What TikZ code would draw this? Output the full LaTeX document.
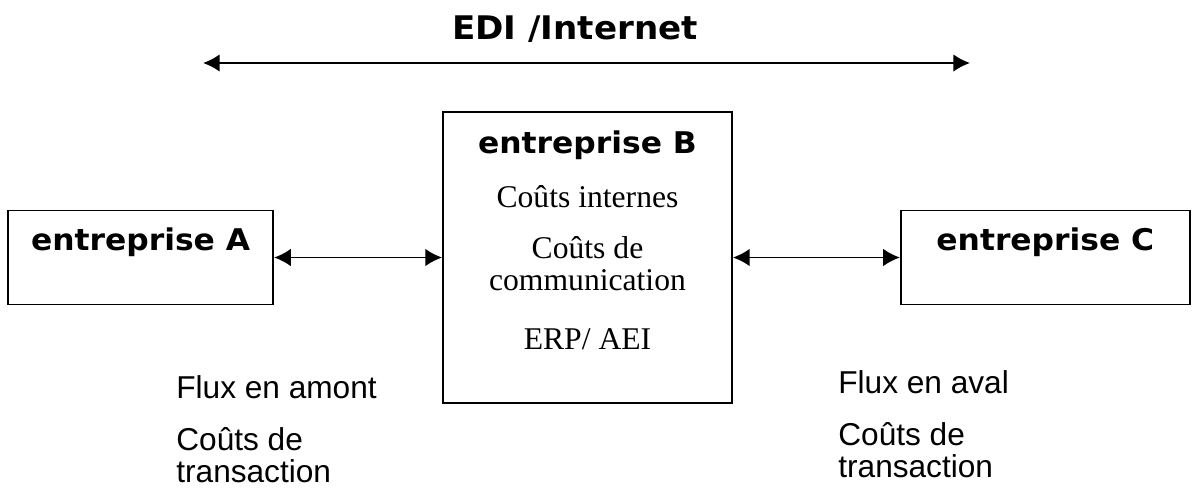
\documentclass[tikz,border=0pt]{standalone}
\usepackage{fontspec}
\setmainfont{Liberation Serif}
\newfontfamily\verdf[FakeStretch=1.05]{DejaVu Sans}
\newfontfamily\arialf{Liberation Sans}
\usetikzlibrary{arrows.meta}
\usetikzlibrary{positioning}
\tikzstyle{firm} = [draw, rectangle, line width=1.1pt, inner sep=0pt]
\tikzstyle{small} = [firm, minimum height=1.88cm, text height=0.8cm, text depth=1.08cm, font=\verdf\bfseries\fontsize{17}{17}\selectfont]
\tikzstyle{inner} = [anchor=base, inner sep=0pt, font=\fontsize{18}{18}\selectfont]
\tikzstyle{note} = [anchor=base west, align=left, inner sep=0pt, font=\arialf\fontsize{18}{18}\selectfont]
\tikzstyle{link} = [line width=1.1pt, <->]

\begin{document}
\begin{tikzpicture}[x=0.02cm, y=-0.02cm, >={Latex[length=9.5pt,width=10pt]}]
    \useasboundingbox (0,0) rectangle (1194,488);

    % Placing the blocks
    \node [firm, minimum width=5.78cm, minimum height=5.82cm] (entB) at (587.5,257.5) {};
    \node [small, minimum width=5.3cm, left=3.36cm of entB] (entA) {entreprise A};
    \node [small, minimum width=5.78cm, right=3.34cm of entB] (entC) {entreprise C};

    % Inside entreprise B
    \node [inner, font=\verdf\bfseries\fontsize{17}{17}\selectfont] (bName) at (587.5,153) {entreprise B};
    \node [inner] (bInt) at (587.5,207) {Coûts internes};
    \node [inner] (bCom) at (587.5,258) {Coûts de};
    \node [inner] (bCom2) at (587.5,290) {communication};
    \node [inner] (bErp) at (587.5,349) {ERP/ AEI};

    % Network on top
    \node [anchor=base, inner sep=0pt, font=\verdf\bfseries\fontsize{18.5}{18}\selectfont] (net) at (575,39) {EDI /Internet};
    \coordinate (netL) at (203,63);
    \coordinate (netR) at (970,63);

    % Notes under the flows (base anchor sits on the last line)
    \node [note] (upFlux) at (176,398) {Flux en amont};
    \node [note] (upCost) at (176,482) {Coûts de\\transaction};
    \node [note] (downFlux) at (838,393) {Flux en aval};
    \node [note] (downCost) at (838,477) {Coûts de\\transaction};

    % Connecting the nodes
    \draw [link] (entA) -- (entB);
    \draw [link] (entB) -- (entC);
    \draw [link] (netL) -- (netR);
\end{tikzpicture}
\end{document}
